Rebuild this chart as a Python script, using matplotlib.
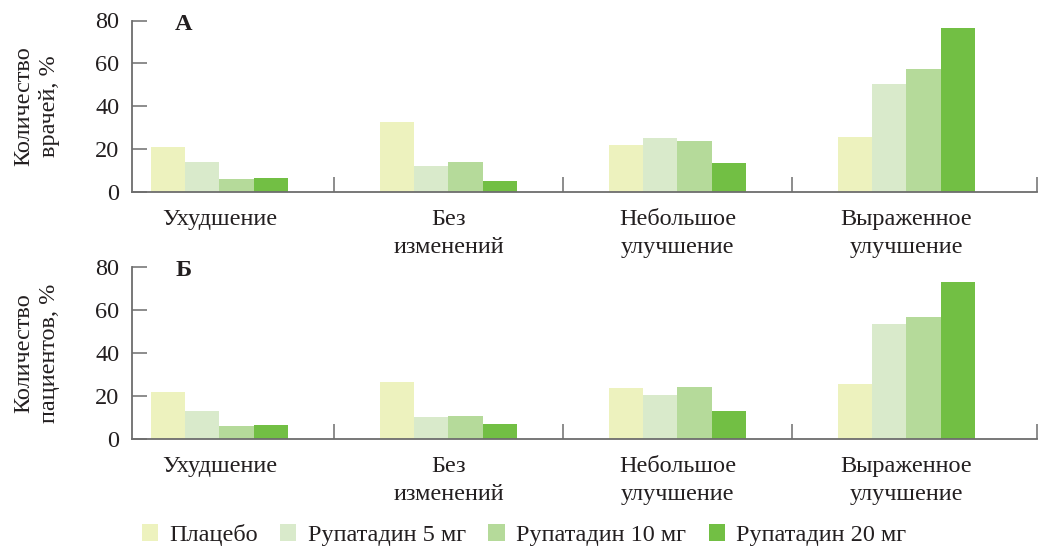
import matplotlib
matplotlib.use("Agg")
import matplotlib.pyplot as plt
import numpy as np
from matplotlib.patches import Patch

plt.rcParams['font.family'] = ['Liberation Serif', 'DejaVu Serif']

categories = ["Ухудшение", "Без\nизменений", "Небольшое\nулучшение", "Выраженное\nулучшение"]
series_names = ["Плацебо", "Рупатадин 5 мг", "Рупатадин 10 мг", "Рупатадин 20 мг"]
colors = ["#EDF2BE", "#D9EACB", "#B5DA9A", "#72BF44"]

# Panel A: physicians
doctors_placebo = [20.8, 32.5, 21.7, 25.5]
doctors_5mg = [13.8, 11.9, 25.0, 50.2]
doctors_10mg = [5.8, 13.8, 23.6, 57.2]
doctors_20mg = [6.3, 4.9, 13.3, 76.4]

# Panel Б: patients
patients_placebo = [21.8, 26.6, 23.7, 25.5]
patients_5mg = [12.9, 10.3, 20.4, 53.6]
patients_10mg = [5.9, 10.7, 24.1, 56.9]
patients_20mg = [6.4, 7.0, 12.9, 73.3]

yticks = [0, 20, 40, 60, 80]
panel_labels = ["А", "Б"]
ylabels = ["Количество\nврачей, %", "Количество\nпациентов, %"]

TEXT = "#231f20"
AX = "#6d6d6d"
FS = 17.5
W, H = 1044, 548
fig = plt.figure(figsize=(W / 100, H / 100), dpi=100)

def fx(px):
    return px / W

def fy(py):
    return 1 - py / H

left, right = 132, 1037
panels = [
    (20.5, 191.5, [doctors_placebo, doctors_5mg, doctors_10mg, doctors_20mg]),
    (267.3, 439.0, [patients_placebo, patients_5mg, patients_10mg, patients_20mg]),
]

bw = 0.15
x = np.arange(len(categories))
for i, (top, bot, data) in enumerate(panels):
    ax = fig.add_axes([fx(left), fy(bot), fx(right - left), (bot - top) / H])
    for k, vals in enumerate(data):
        ax.bar(x + (k - 1.5) * bw, vals, width=bw, color=colors[k], linewidth=0, zorder=1)
    ax.set_xlim(-0.382, 3.57)
    ax.set_ylim(0, 80)
    for s in ["top", "right"]:
        ax.spines[s].set_visible(False)
    for s in ["left", "bottom"]:
        ax.spines[s].set_color(AX)
        ax.spines[s].set_linewidth(1.3)
        ax.spines[s].set_zorder(3)
    ax.set_yticks(yticks)
    ax.set_yticklabels([str(t) for t in yticks])
    ax.tick_params(axis='y', direction='in', length=11, width=1.1, color=AX,
                   labelsize=FS, labelcolor=TEXT, pad=9)
    ax.set_xticks(x)
    ax.set_xticklabels(categories, linespacing=1.42)
    ax.tick_params(axis='x', which='major', length=0, labelsize=FS, labelcolor=TEXT, pad=12.5)
    ax.set_xticks([0.5, 1.5, 2.5, 3.57], minor=True)
    ax.tick_params(axis='x', which='minor', direction='in', length=11, width=1.1, color=AX)
    ax.text((184 - left) / (right - left), 1 - (3.5 / (bot - top)), panel_labels[i],
            transform=ax.transAxes, ha='center', va='center', fontsize=FS,
            fontweight='bold', color=TEXT)
    fig.text(fx(37), fy((top + bot) / 2), ylabels[i], rotation=90, ha='center',
             va='center', multialignment='center', fontsize=FS, color=TEXT, linespacing=1.3)

handles = [Patch(facecolor=c, edgecolor='none') for c in colors]
fig.legend(handles, series_names, loc='center', bbox_to_anchor=(fx(524), fy(535)),
           ncol=4, frameon=False, fontsize=FS, handlelength=0.66, handleheight=0.66,
           handletextpad=0.48, columnspacing=0.92, labelcolor=TEXT, borderpad=0)

fig.savefig("out.png", dpi=100)
